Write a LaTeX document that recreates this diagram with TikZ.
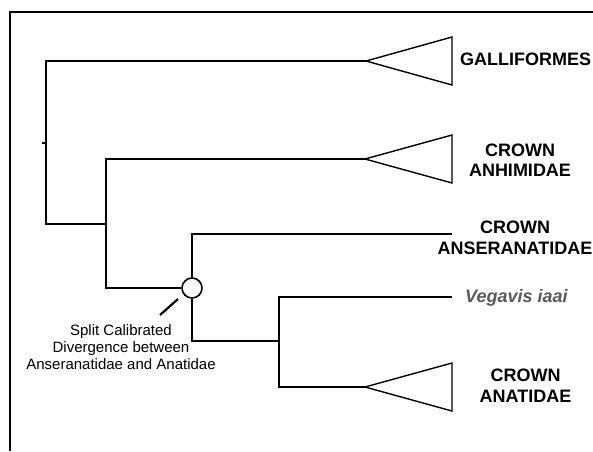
\documentclass[tikz,border=0pt]{standalone}
\usepackage{fontspec}
\setmainfont{Liberation Sans}
\begin{document}
\begin{tikzpicture}[x=1pt,y=-1pt,
  br/.style={line width=1.6pt},
  tri/.style={line width=1.4pt, line join=miter},
  clade/.style={font=\bfseries\fontsize{18}{20.5}\selectfont, align=center, inner sep=0pt},
  note/.style={font=\fontsize{15}{17}\selectfont, align=center, inner sep=0pt}]
\useasboundingbox (0,0) rectangle (593,451);
\draw[line width=2.4pt] (10,451) -- (10,12) -- (593,12);
% coordinates
\coordinate (r) at (46,143);
\coordinate (tick) at (41.5,143);
\coordinate (g) at (366,61);
\coordinate (n1) at (106,224);
\coordinate (ah) at (365,159);
\coordinate (as) at (452,234);
\coordinate (n3) at (279,341);
\coordinate (vg) at (452,297);
\coordinate (an) at (365,387);
\node[circle, draw, line width=1.6pt, minimum size=20pt, inner sep=0pt] (cal) at (192,288) {};
% branches
\draw[br] (tick) -- (r);
\draw[br] (g) -| (r) |- (n1);
\draw[br] (ah) -| (n1) |- (cal.west);
\draw[br] (as) -| (cal.north);
\draw[br] (cal.south) |- (n3);
\draw[br] (vg) -| (n3) |- (an);
% triangles
\draw[tri] (g) -- (452,37) -- (452,85) -- cycle;
\draw[tri] (ah) -- (452,135) -- (452,183) -- cycle;
\draw[tri] (an) -- (452,363) -- (452,411) -- cycle;
% calibration label
\coordinate (ls) at (178,299);
\coordinate (le) at (160,315);
\draw[line width=2.2pt] (ls) -- (le);
\node[note] (lab) at (121,347) {Split Calibrated\\Divergence between\\Anseranatidae and Anatidae};
% clade labels
\node[clade, anchor=west] (tg) at (460,59) {GALLIFORMES};
\node[clade] (tah) at (520,160) {CROWN\\ANHIMIDAE};
\node[clade] (tas) at (515,238) {CROWN\\ANSERANATIDAE};
\node[clade, anchor=west, font=\bfseries\itshape\fontsize{18}{20.5}\selectfont, text=black!65] (tv) at (465,298) {Vegavis iaai};
\node[clade] (tan) at (525.5,385.5) {CROWN\\ANATIDAE};
\end{tikzpicture}
\end{document}
